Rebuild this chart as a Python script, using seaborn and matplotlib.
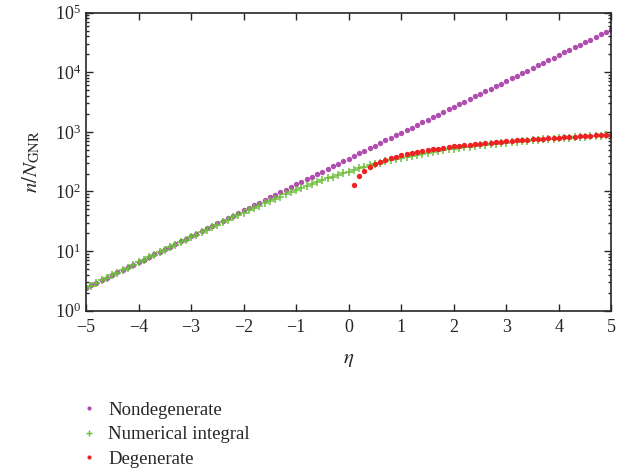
import numpy as np
import matplotlib
matplotlib.use('Agg')
import matplotlib.pyplot as plt
from matplotlib.lines import Line2D
import seaborn as sns

# eta grid, step 0.1
eta = np.linspace(-5, 5, 101)
eta_deg = np.linspace(0.1, 5, 50)

nondegenerate = [
    2.40, 2.65, 2.93, 3.24, 3.58, 3.96, 4.37, 4.83, 5.34, 5.90,
    6.52, 7.21, 7.96, 8.80, 9.73, 10.75, 11.88, 13.13, 14.51, 16.04,
    17.72, 19.58, 21.64, 23.92, 26.43, 29.22, 32.29, 35.68, 39.44, 43.58,
    48.18, 53.25, 58.85, 65.04, 71.88, 79.44, 87.79, 97.03, 107.2, 118.5,
    131.0, 144.7, 160.0, 176.8, 195.4, 215.9, 238.6, 263.7, 291.5, 322.1,
    356, 393, 435, 481, 531, 587, 649, 717, 792, 876,
    968, 1069, 1182, 1306, 1444, 1595, 1763, 1949, 2154, 2380,
    2630, 2907, 3213, 3551, 3924, 4337, 4793, 5297, 5854, 6470,
    7150, 7902, 8733, 9652, 10667, 11789, 13029, 14399, 15913, 17587,
    19437, 21481, 23740, 26237, 28996, 32046, 35416, 39141, 43257, 47807,
    52835]

numerical = [
    2.39, 2.64, 2.91, 3.22, 3.55, 3.93, 4.33, 4.78, 5.28, 5.83,
    6.44, 7.11, 7.84, 8.65, 9.55, 10.52, 11.61, 12.80, 14.10, 15.54,
    17.12, 18.86, 20.75, 22.84, 25.11, 27.64, 30.35, 33.33, 36.60, 40.14,
    44.04, 48.24, 52.79, 57.69, 63.04, 68.80, 75.06, 81.70, 88.87, 96.58,
    104.8, 113.3, 122.6, 132.4, 142.6, 153.5, 164.9, 176.7, 189.2, 202.0,
    215.4, 229.3, 243.7, 258.2, 273.0, 288.0, 303.0, 318.6, 334.2, 350.0,
    365.6, 381.2, 396.8, 412.6, 428.6, 445.0, 460.4, 475.9, 490.9, 505.8,
    521.0, 535.8, 550.4, 564.4, 578.6, 592.7, 606.5, 620.0, 633.0, 647.0,
    660.0, 672.7, 685.0, 697.4, 709.4, 721.5, 733.0, 745.0, 757.0, 768.5,
    780.0, 791.0, 801.5, 812.4, 823.0, 834.0, 844.0, 854.0, 864.5, 875.0,
    884.0]

degenerate = [
    127.0, 179.6, 220.0, 254.1, 284.0, 311.2, 336.1, 359.3, 381.1, 401.7,
    421.3, 440.0, 458.0, 475.3, 492.0, 508.1, 523.7, 538.9, 553.7, 568.1,
    582.1, 595.8, 609.2, 622.3, 635.1, 647.7, 660.1, 672.2, 684.1, 695.8,
    707.3, 718.6, 729.7, 740.7, 751.5, 762.2, 772.7, 783.1, 793.3, 803.4,
    813.4, 823.2, 833.0, 842.6, 852.1, 861.6, 870.9, 880.1, 889.2, 898.2]

labels = ['Nondegenerate', 'Numerical integral', 'Degenerate']
colors = ['#b04dae', '#6cbf3a', '#ee2222']

sns.set_style('ticks')
plt.rcParams['font.family'] = ['Liberation Serif', 'DejaVu Serif']
plt.rcParams['mathtext.fontset'] = 'stix'
plt.rcParams['axes.unicode_minus'] = True

fig = plt.figure(figsize=(6.32, 4.75), dpi=100)
ax = fig.add_axes([0.136, 0.346, 0.8315, 0.6274])

sns.scatterplot(x=eta, y=nondegenerate, marker='o', s=15, color=colors[0],
                linewidth=0, ax=ax)
sns.scatterplot(x=eta, y=numerical, marker='+', s=28, color=colors[1],
                linewidth=1.1, ax=ax)
sns.scatterplot(x=eta_deg, y=degenerate, marker='o', s=15, color=colors[2],
                linewidth=0, ax=ax)

ax.set_yscale('log')
ax.set_xlim(-5, 5)
ax.set_ylim(1, 1e5)
ax.set_xticks(range(-5, 6))
ax.tick_params(axis='both', which='both', direction='in', top=True, right=True,
               labelsize=13, width=1.0)
ax.tick_params(axis='both', which='major', length=5)
ax.tick_params(axis='y', which='minor', length=2.5)
ax.tick_params(axis='x', which='major', pad=6)
for sp in ax.spines.values():
    sp.set_linewidth(1.2)

ax.set_xlabel(r'$\eta$', fontsize=15, labelpad=10)
ax.set_ylabel(r'$n/N_{\mathrm{GNR}}$', fontsize=15, labelpad=9)

handles = [
    Line2D([], [], linestyle='none', marker='o', markersize=3, markeredgewidth=0, color=colors[0]),
    Line2D([], [], linestyle='none', marker='+', markersize=5, markeredgewidth=1.0, color=colors[1]),
    Line2D([], [], linestyle='none', marker='o', markersize=3, markeredgewidth=0, color=colors[2]),
]
ax.legend(handles, labels, loc='upper left', bbox_to_anchor=(0.1, 0.19),
          bbox_transform=fig.transFigure, frameon=False, fontsize=13.5,
          handletextpad=0.5, labelspacing=0.4, handlelength=1.0)

fig.savefig('out.png', dpi=100)
